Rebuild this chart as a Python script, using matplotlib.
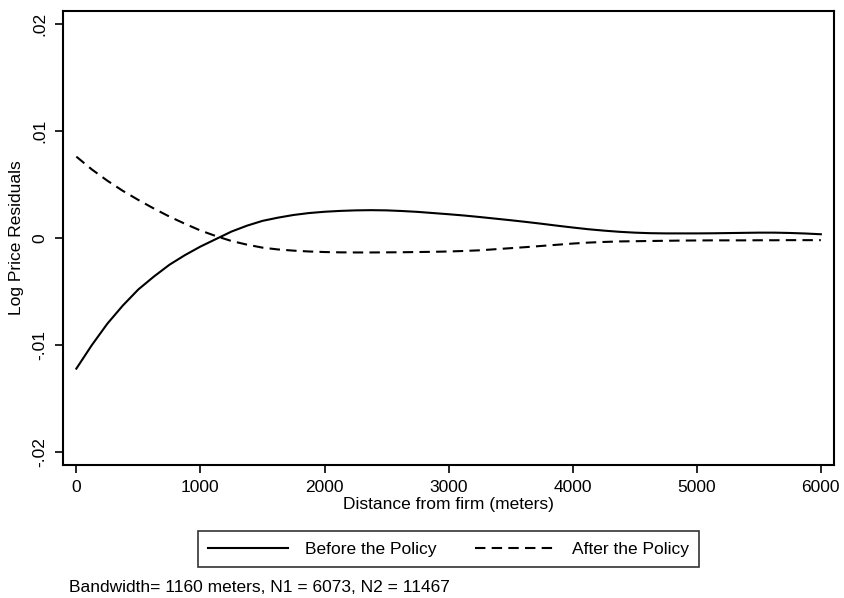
import matplotlib
matplotlib.use("Agg")
import matplotlib.pyplot as plt
from matplotlib.lines import Line2D

plt.rcParams['font.family'] = ['Liberation Sans', 'DejaVu Sans']

distance = [0, 125, 250, 375, 500, 625, 750, 875, 1000, 1125, 1250, 1375, 1500,
            1625, 1750, 1875, 2000, 2125, 2250, 2375, 2500, 2625, 2750, 2875,
            3000, 3125, 3250, 3375, 3500, 3625, 3750, 3875, 4000, 4125, 4250,
            4375, 4500, 4625, 4750, 4875, 5000, 5125, 5250, 5375, 5500, 5625,
            5750, 5875, 6000]
before_policy = [-0.0122, -0.0100, -0.0080, -0.0063, -0.0048, -0.0036, -0.0025,
                 -0.0016, -0.0008, -0.0001, 0.0006, 0.00115, 0.0016, 0.0019,
                 0.00215, 0.00233, 0.00245, 0.00253, 0.00258, 0.0026, 0.00258,
                 0.00252, 0.00244, 0.00233, 0.00222, 0.0021, 0.00196, 0.00181,
                 0.00166, 0.0015, 0.00133, 0.00115, 0.00098, 0.00082, 0.00069,
                 0.00058, 0.0005, 0.00045, 0.00043, 0.00043, 0.00043, 0.00044,
                 0.00046, 0.00048, 0.0005, 0.0005, 0.00047, 0.00042, 0.00035]
after_policy = [0.0076, 0.0064, 0.00535, 0.0044, 0.00355, 0.00275, 0.002, 0.00133,
                0.0007, 0.00018, -0.00028, -0.00062, -0.0009, -0.00107, -0.00118,
                -0.00126, -0.00131, -0.00134, -0.00135, -0.00135, -0.00134,
                -0.00133, -0.00131, -0.00129, -0.00126, -0.00121, -0.00115,
                -0.00105, -0.00095, -0.00085, -0.00074, -0.00063, -0.00052,
                -0.00043, -0.00037, -0.00032, -0.0003, -0.00028, -0.00026,
                -0.00024, -0.00023, -0.00022, -0.00022, -0.00022, -0.00021,
                -0.00021, -0.0002, -0.0002, -0.0002]

x_ticks = [0, 1000, 2000, 3000, 4000, 5000, 6000]
y_ticks = [-0.02, -0.01, 0, 0.01, 0.02]
y_tick_labels = ['-.02', '-.01', '0', '.01', '.02']
series_labels = ['Before the Policy', 'After the Policy']
note = 'Bandwidth= 1160 meters, N1 = 6073, N2 = 11467'

W, H = 844, 598
fig = plt.figure(figsize=(W / 100, H / 100), dpi=100)
ax = fig.add_axes([62.7 / W, 1 - 465 / H, (834 - 62.7) / W, (465 - 11) / H])

fs = 12.5
lw = 1.5
dash = (0, (5.0, 3.0))
ax.plot(distance, before_policy, color='black', lw=lw, solid_joinstyle='round')
ax.plot(distance, after_policy, color='black', lw=lw, linestyle=dash)

ax.set_xlim(-110, 6106)
ax.set_ylim(-0.0212, 0.0212)
ax.set_xticks(x_ticks)
ax.set_xticklabels([str(t) for t in x_ticks], fontsize=fs)
ax.set_yticks(y_ticks)
ax.set_yticklabels(y_tick_labels, fontsize=fs, rotation=90, va='center')
ax.tick_params(direction='out', length=6, width=1.2, pad=5, colors='black')
for s in ax.spines.values():
    s.set_linewidth(1.5)
    s.set_color('black')

ax.set_xlabel('Distance from firm (meters)', fontsize=fs, labelpad=1)
ax.set_ylabel('Log Price Residuals', fontsize=fs, labelpad=6)

handles = [Line2D([], [], color='black', lw=lw),
           Line2D([], [], color='black', lw=lw, linestyle=dash)]
leg = fig.legend(handles, series_labels, loc='center', ncol=2,
                 bbox_to_anchor=(448.5 / W, 1 - 549 / H), fontsize=fs,
                 frameon=True, fancybox=False, edgecolor='black',
                 handlelength=4.6, handletextpad=1.0, columnspacing=2.2,
                 borderpad=0.6)
leg.get_frame().set_linewidth(1.2)

fig.text(69 / W, 1 - 587 / H, note, fontsize=fs, va='center', ha='left')

fig.savefig('out.png', dpi=100)
